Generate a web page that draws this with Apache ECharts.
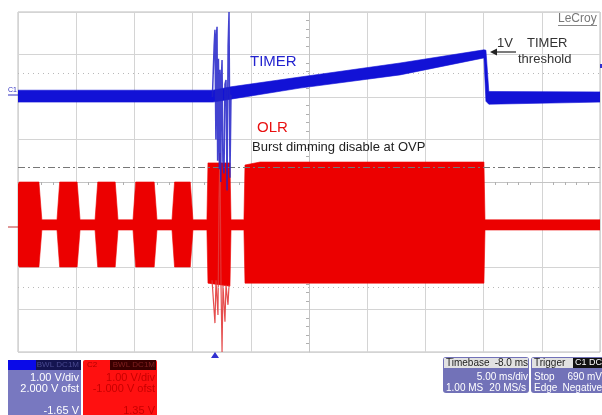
<!DOCTYPE html>
<html><head><meta charset="utf-8">
<script src="https://cdn.jsdelivr.net/npm/echarts@6/dist/echarts.min.js"></script>
<style>html,body{margin:0;padding:0;background:#fff}#c{width:602px;height:415px}</style>
</head><body><div id="c"></div>
<script>
// Time in ms (5 ms/div, screen centre = 0); voltages in V per channel (1 V/div)
const C1_OFFSET = 2.0;   // C1 "2.000 V ofst" -> divisions
const C2_OFFSET = -1.0;  // C2 "-1.000 V ofst"
const X_TICKS = [-25, 25, 5];
const Y_TICKS = [-4, 4, 1];

// TIMER (C1) trace envelope
const timerT  = [-25, -8.25, -6.7, -0.77, 7.82, 15.03, 15.2, 15.45, 25];
const timerHi = [0.16, 0.16, 0.24, 0.47, 0.80, 1.11, 1.10, 0.13, 0.12];
const timerLo = [-0.12, -0.12, -0.05, 0.21, 0.52, 0.92, -0.10, -0.17, -0.12];
// TIMER disturbance spikes
const timerSpikeT = [-8.3, -8.15, -8.08, -8.0, -7.95, -7.90, -7.85, -7.78, -7.70, -7.65, -7.58, -7.52, -7.47,
                     -7.40, -7.30, -7.22, -7.13, -7.04, -6.95, -6.87, -6.79, -6.70];
const timerSpikeV = [0.0, 1.2, 1.58, -1.0, 1.45, 1.65, -1.5, 0.9, -1.7, 0.64, -2.0, 0.5, 0.87,
                     -1.5, -1.8, 0.3, 0.4, -2.2, 1.2, 2.0, -1.9, 0.05];

// OLR (C2) trace envelope
const olrT  = [-25.0, -24.9, -23.2, -22.95, -21.65, -21.42, -19.92, -19.67, -18.38, -18.15, -16.65, -16.41,
               -15.12, -14.89, -13.30, -13.06, -11.77, -11.55, -10.20, -9.97, -8.77, -8.68, -6.79, -6.70,
               -5.59, -5.50, -4.20, 15.03, 15.12, 25.0];
const olrHi = [0.95, 1.0, 1.0, 0.11, 0.11, 1.0, 1.0, 0.11, 0.11, 1.0, 1.0, 0.11,
               0.11, 1.0, 1.0, 0.11, 0.11, 1.0, 1.0, 0.11, 0.11, 1.45, 1.45, 0.11,
               0.11, 1.40, 1.47, 1.47, 0.11, 0.11];
const olrLo = [-0.95, -1.0, -1.0, -0.13, -0.13, -1.0, -1.0, -0.13, -0.13, -1.0, -1.0, -0.13,
               -0.13, -1.0, -1.0, -0.13, -0.13, -1.0, -1.0, -0.13, -0.13, -1.38, -1.45, -0.13,
               -0.13, -1.38, -1.38, -1.38, -0.13, -0.13];
// OLR disturbance spikes
const olrSpikeT = [-8.33, -8.08, -7.99, -7.82, -7.73, -7.65, -7.56, -7.47, -7.39, -7.22, -7.13, -6.96, -6.87];
const olrSpikeV = [-1.31, -2.32, -1.31, -2.13, 0.58, 1.68, -1.42, -3.0, -1.42, -2.29, -1.42, -1.89, -1.42];

// Reference levels (divisions)
const dottedLevels = [2.56, -2.47];
const dashDotLevel = [0.35];

const BLUE = '#1212d6', RED = '#ec0000';
const FONT = '"Liberation Sans", Arial, sans-serif';

function band(T, Hi, Lo, off, color, z) {
  return {
    type: 'custom', coordinateSystem: 'cartesian2d', data: [[0, 0]], z: z, silent: true, clip: true,
    renderItem: function (params, api) {
      const pts = [];
      for (let i = 0; i < T.length; i++) pts.push(api.coord([T[i], Hi[i] + off]));
      for (let i = T.length - 1; i >= 0; i--) pts.push(api.coord([T[i], Lo[i] + off]));
      return { type: 'polygon', shape: { points: pts }, style: { fill: color, stroke: color, lineWidth: 0.6 } };
    }
  };
}
function spikes(T, V, off, color, w, z, op) {
  return {
    type: 'line', data: T.map((t, i) => [t, V[i] + off]), showSymbol: false, symbol: 'none', z: z, silent: true,
    lineStyle: { color: color, width: w, opacity: op }, clip: true
  };
}
function txt(x, y, s, font, fill, align, extra) {
  return Object.assign({ type: 'text', x: x, y: y, silent: true, z: 100,
    style: { text: s, font: font, fill: fill, textAlign: align || 'left', textVerticalAlign: 'middle' } }, extra || {});
}
function rect(x, y, w, h, fill, r) {
  return { type: 'rect', silent: true, z: 90, shape: { x: x, y: y, width: w, height: h, r: r || 0 }, style: { fill: fill } };
}

const chart = echarts.init(document.getElementById('c'), null, { renderer: 'canvas' });
const refLines = dottedLevels.map(v => ({ yAxis: v, lineStyle: { type: [1, 4], color: '#b8b8b8', width: 1 } }))
  .concat(dashDotLevel.map(v => ({ yAxis: v, lineStyle: { type: [7, 3, 2, 3], color: '#777', width: 1 } })));

chart.setOption({
  animation: false,
  backgroundColor: '#fff',
  grid: { left: 18, right: 2, top: 12, bottom: 63, containLabel: false, show: true, borderColor: '#bdbdbd', borderWidth: 1 },
  xAxis: {
    type: 'value', min: X_TICKS[0], max: X_TICKS[1], interval: X_TICKS[2],
    axisLabel: { show: false }, axisTick: { show: false },
    axisLine: { show: true, onZero: true, lineStyle: { color: '#c4c4c4' } },
    minorTick: { show: true, splitNumber: 5, length: 3, lineStyle: { color: '#b0b0b0' } },
    splitLine: { show: true, lineStyle: { color: '#d4d4d4', width: 1 } }
  },
  yAxis: {
    type: 'value', min: Y_TICKS[0], max: Y_TICKS[1], interval: Y_TICKS[2],
    axisLabel: { show: false }, axisTick: { show: false },
    axisLine: { show: true, onZero: true, lineStyle: { color: '#c4c4c4' } },
    minorTick: { show: true, splitNumber: 5, length: 3, lineStyle: { color: '#b0b0b0' } },
    splitLine: { show: true, lineStyle: { color: '#d4d4d4', width: 1 } }
  },
  series: [
    { type: 'line', data: [], silent: true, z: 1,
      markLine: { silent: true, symbol: 'none', label: { show: false }, data: refLines } },
    band(olrT, olrHi, olrLo, C2_OFFSET, RED, 3),
    spikes(olrSpikeT, olrSpikeV, C2_OFFSET, '#e23a3a', 1.2, 4, 0.9),
    band(timerT, timerHi, timerLo, C1_OFFSET, BLUE, 5),
    spikes(timerSpikeT, timerSpikeV, C1_OFFSET, '#2222c8', 1.5, 6, 0.85)
  ],
  graphic: [
    // annotations
    txt(250, 62, 'TIMER', '15px ' + FONT, '#2323cf'),
    txt(257, 128, 'OLR', '15px ' + FONT, '#e81010'),
    txt(252, 147, 'Burst dimming disable at OVP', '13px ' + FONT, '#222'),
    txt(497, 43, '1V', '13px ' + FONT, '#333'),
    txt(527, 43, 'TIMER', '13px ' + FONT, '#333'),
    txt(518, 59, 'threshold', '13px ' + FONT, '#333'),
    { type: 'line', silent: true, z: 100, shape: { x1: 516, y1: 52, x2: 495, y2: 52 }, style: { stroke: '#222', lineWidth: 1.2 } },
    { type: 'polygon', silent: true, z: 100, shape: { points: [[490, 52], [497, 48.5], [497, 55.5]] }, style: { fill: '#222' } },
    txt(558, 19, 'LeCroy', '12px ' + FONT, '#777'),
    { type: 'line', silent: true, z: 100, shape: { x1: 558, y1: 25.5, x2: 597, y2: 25.5 }, style: { stroke: '#888', lineWidth: 1 } },
    // channel markers
    txt(8, 90, 'C1', '7px ' + FONT, '#3030c0'),
    { type: 'line', silent: true, z: 100, shape: { x1: 8, y1: 95, x2: 18, y2: 95 }, style: { stroke: '#3030c0', lineWidth: 1 } },
    txt(13, 222, 'C2', '7px ' + FONT, '#c03030', 'center', { rotation: -Math.PI / 2, originX: 13, originY: 222 }),
    { type: 'line', silent: true, z: 100, shape: { x1: 8, y1: 227, x2: 18, y2: 227 }, style: { stroke: '#c03030', lineWidth: 1 } },
    // trigger marker
    { type: 'polygon', silent: true, z: 100, shape: { points: [[211, 358], [219, 358], [215, 352]] }, style: { fill: '#3030d0' } },
    { type: 'rect', silent: true, z: 100, shape: { x: 600, y: 64, width: 2, height: 4 }, style: { fill: '#3030d0' } },
    // C1 box
    rect(8, 360, 73, 60, '#7878c0', 2),
    rect(8, 360, 28, 10, '#0a0ae8'),
    rect(36, 360, 45, 10, '#141450'),
    txt(79, 365, 'BWL DC1M', '8px ' + FONT, '#4a4a90', 'right'),
    txt(79, 378, '1.00 V/div', '11px ' + FONT, '#fff', 'right'),
    txt(79, 389, '2.000 V ofst', '11px ' + FONT, '#fff', 'right'),
    txt(79, 411, '-1.65 V', '11px ' + FONT, '#fff', 'right'),
    // C2 box
    rect(83, 360, 74, 60, '#ff1010', 2),
    txt(87, 365, 'C2', '8px ' + FONT, '#b00000'),
    rect(110, 360, 46, 10, '#3a0000'),
    txt(155, 365, 'BWL DC1M', '8px ' + FONT, '#802020', 'right'),
    txt(155, 378, '1.00 V/div', '11px ' + FONT, '#c80000', 'right'),
    txt(155, 389, '-1.000 V ofst', '11px ' + FONT, '#c80000', 'right'),
    txt(155, 411, '1.35 V', '11px ' + FONT, '#c80000', 'right'),
    // Timebase box
    rect(443, 357, 86, 36, '#7272b8', 3),
    rect(444, 358, 84, 10, '#e2e2e2'),
    txt(446, 363, 'Timebase', '10px ' + FONT, '#222'),
    txt(528, 363, '-8.0 ms', '10px ' + FONT, '#222', 'right'),
    txt(528, 377, '5.00 ms/div', '10px ' + FONT, '#fff', 'right'),
    txt(446, 388, '1.00 MS', '10px ' + FONT, '#fff'),
    txt(526, 388, '20 MS/s', '10px ' + FONT, '#fff', 'right'),
    // Trigger box
    rect(531, 357, 75, 36, '#7272b8', 3),
    rect(532, 358, 74, 10, '#e2e2e2'),
    txt(534, 363, 'Trigger', '10px ' + FONT, '#222'),
    rect(573, 358, 29, 10, '#111'),
    txt(575, 363, 'C1 DC', '9px ' + FONT, '#fff'),
    txt(534, 377, 'Stop', '10px ' + FONT, '#fff'),
    txt(602, 377, '690 mV', '10px ' + FONT, '#fff', 'right'),
    txt(534, 388, 'Edge', '10px ' + FONT, '#fff'),
    txt(602, 388, 'Negative', '10px ' + FONT, '#fff', 'right')
  ]
});
</script></body></html>
